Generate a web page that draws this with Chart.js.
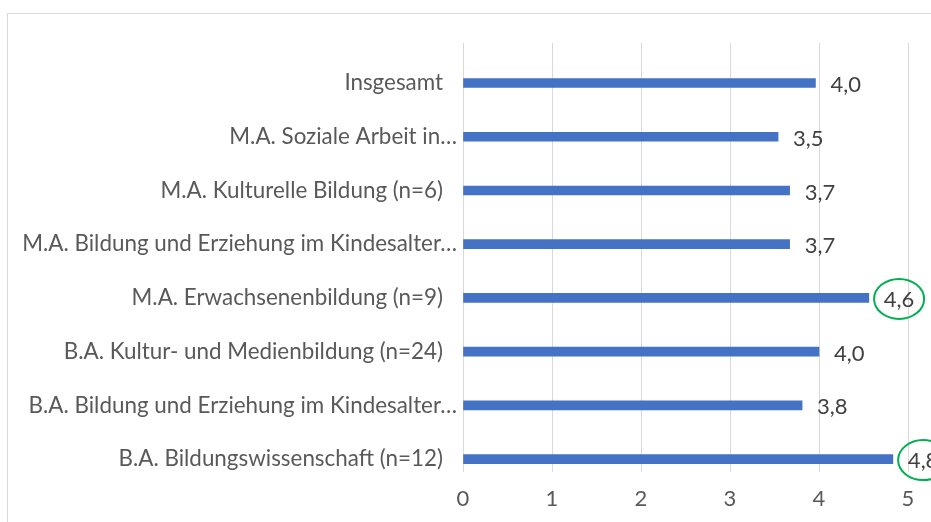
<!DOCTYPE html>
<html>
<head>
<meta charset="utf-8">
<script src="https://cdn.jsdelivr.net/npm/chart.js@4.4.1/dist/chart.umd.min.js"></script>
<style>
html, body { margin: 0; padding: 0; background: #fff; }
#wrap { width: 931px; height: 522px; }
</style>
</head>
<body>
<div id="wrap"><canvas id="myChart"></canvas></div>
<script>
const kategorien = [
    "Insgesamt",
    "M.A. Soziale Arbeit in…",
    "M.A. Kulturelle Bildung (n=6)",
    "M.A. Bildung und Erziehung im Kindesalter…",
    "M.A. Erwachsenenbildung (n=9)",
    "B.A. Kultur- und Medienbildung (n=24)",
    "B.A. Bildung und Erziehung im Kindesalter…",
    "B.A. Bildungswissenschaft (n=12)"
];
const mittelwerte = [3.96, 3.54, 3.67, 3.67, 4.56, 4.0, 3.81, 4.83];
const markiert = [false, false, false, false, true, false, false, true];
const xTicks = [0, 1, 2, 3, 4, 5];

const schrift = "Lato, 'Open Sans', sans-serif";

// Beschriftungen rechts neben den Balken + grüne Kreise
const wertePlugin = {
    id: "werte",
    beforeDraw(chart) {
        const ctx = chart.ctx;
        ctx.save();
        ctx.strokeStyle = "#d9d9d9";
        ctx.lineWidth = 1;
        ctx.strokeRect(7.5, 13.5, 1000, 1000);
        ctx.restore();
    },
    afterDatasetsDraw(chart) {
        const ctx = chart.ctx;
        const meta = chart.getDatasetMeta(0);
        ctx.save();
        ctx.font = "22px " + schrift;
        ctx.fillStyle = "#404040";
        ctx.textAlign = "left";
        ctx.textBaseline = "middle";
        meta.data.forEach((bar, i) => {
            const txt = mittelwerte[i].toFixed(1).replace(".", ",");
            const x = bar.x + 15;
            const y = bar.y + 2;
            ctx.fillText(txt, x, y);
            if (markiert[i]) {
                const w = ctx.measureText(txt).width;
                ctx.beginPath();
                ctx.ellipse(x + w / 2, y - 1, 25, 20, 0, 0, Math.PI * 2);
                ctx.strokeStyle = "#00b050";
                ctx.lineWidth = 2;
                ctx.stroke();
            }
        });
        ctx.restore();
    }
};

const punkte = mittelwerte.map((v, i) => ({ x: v, y: i }));

new Chart("myChart", {
    type: "bar",
    data: {
        datasets: [{
            data: punkte,
            backgroundColor: "#4472c4",
            barThickness: 9
        }]
    },
    options: {
        indexAxis: "y",
        responsive: true,
        maintainAspectRatio: false,
        animation: false,
        layout: { padding: { top: 43, right: 23 } },
        plugins: {
            legend: { display: false },
            tooltip: { enabled: false }
        },
        scales: {
            x: {
                type: "linear",
                min: 0,
                max: 5,
                afterBuildTicks: s => { s.ticks = xTicks.map(v => ({ value: v })); },
                afterFit: s => { s.height = 50; },
                grid: { color: "#d9d9d9", drawTicks: false },
                border: { display: false },
                ticks: {
                    padding: 14,
                    color: "#595959",
                    font: { family: schrift, size: 22 }
                }
            },
            y: {
                type: "linear",
                offset: false,
                reverse: true,
                min: -0.745,
                max: 7.24,
                afterBuildTicks: s => { s.ticks = kategorien.map((_, i) => ({ value: i })); },
                afterFit: s => { s.width = 463; },
                grid: { display: false, drawTicks: false, offset: false },
                border: { display: false },
                ticks: {
                    autoSkip: false,
                    padding: 6,
                    color: "#595959",
                    font: { family: schrift, size: 22.4 },
                    callback: v => {
                        const t = kategorien[v];
                        return t.endsWith("…") ? t : t + "\u2002\u2009";
                    }
                }
            }
        }
    },
    plugins: [wertePlugin]
});
</script>
</body>
</html>
